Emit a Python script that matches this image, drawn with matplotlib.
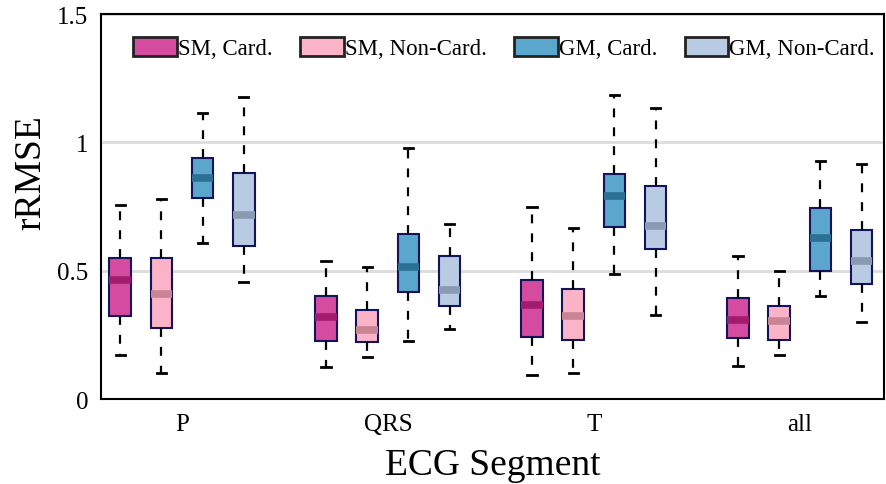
import numpy as np
import matplotlib
matplotlib.use("Agg")
import matplotlib.pyplot as plt
from matplotlib.patches import Patch

plt.rcParams['font.family'] = ['Liberation Serif', 'DejaVu Serif']

# Datos (rRMSE por segmento)
segmentos = ['P', 'QRS', 'T', 'all']
series = ['SM, Card.', 'SM, Non-Card.', 'GM, Card.', 'GM, Non-Card.']

sm_card_hi = [0.756, 0.539, 0.749, 0.558]
sm_card_q3 = [0.550, 0.402, 0.465, 0.395]
sm_card_med = [0.463, 0.318, 0.366, 0.309]
sm_card_q1 = [0.325, 0.227, 0.243, 0.240]
sm_card_lo = [0.171, 0.126, 0.095, 0.130]

sm_non_hi = [0.779, 0.515, 0.666, 0.500]
sm_non_q3 = [0.550, 0.349, 0.428, 0.364]
sm_non_med = [0.408, 0.269, 0.322, 0.303]
sm_non_q1 = [0.278, 0.223, 0.229, 0.230]
sm_non_lo = [0.100, 0.164, 0.100, 0.171]

gm_card_hi = [1.113, 0.977, 1.186, 0.928]
gm_card_q3 = [0.938, 0.645, 0.878, 0.743]
gm_card_med = [0.861, 0.515, 0.792, 0.627]
gm_card_q1 = [0.782, 0.418, 0.670, 0.499]
gm_card_lo = [0.608, 0.225, 0.486, 0.403]

gm_non_hi = [1.175, 0.684, 1.135, 0.916]
gm_non_q3 = [0.880, 0.557, 0.832, 0.660]
gm_non_med = [0.718, 0.426, 0.674, 0.538]
gm_non_q1 = [0.597, 0.364, 0.583, 0.448]
gm_non_lo = [0.457, 0.273, 0.328, 0.301]

datos = [
    (sm_card_lo, sm_card_q1, sm_card_med, sm_card_q3, sm_card_hi),
    (sm_non_lo, sm_non_q1, sm_non_med, sm_non_q3, sm_non_hi),
    (gm_card_lo, gm_card_q1, gm_card_med, gm_card_q3, gm_card_hi),
    (gm_non_lo, gm_non_q1, gm_non_med, gm_non_q3, gm_non_hi),
]

colores = ['#d54b9f', '#fbb3c7', '#5aa6cd', '#b8cbe3']
colores_med = ['#a31b6c', '#c98593', '#2c7096', '#8a9ab0']
offsets = [-0.3, -0.1, 0.1, 0.3]

fig = plt.figure(figsize=(8.86, 4.85), dpi=100)
ax = fig.add_axes([0.114, 0.175, 0.884, 0.794])

x = np.arange(1, len(segmentos) + 1)

for k, (lo, q1, med, q3, hi) in enumerate(datos):
    stats = []
    for i in range(len(segmentos)):
        stats.append(dict(whislo=lo[i], q1=q1[i], med=med[i], q3=q3[i],
                          whishi=hi[i], fliers=[]))
    ax.bxp(stats, positions=x + offsets[k], widths=0.105, capwidths=0.045,
           patch_artist=True, showfliers=False,
           boxprops=dict(facecolor=colores[k], edgecolor='#14145c', lw=1.5),
           whiskerprops=dict(color='black', lw=1.6, linestyle=(0, (4, 4.5))),
           capprops=dict(color='black', lw=2),
           medianprops=dict(color=colores_med[k], lw=5.5, solid_capstyle='butt'))

ax.set_xlim(0.607, 4.41)
ax.set_ylim(0, 1.5)
ax.set_yticks([0, 0.5, 1, 1.5])
ax.set_yticklabels(['0', '0.5', '1', '1.5'])
ax.set_xticks(x)
ax.set_xticklabels(segmentos)
ax.tick_params(length=0, labelsize=18)
ax.tick_params(axis='y', pad=9)
ax.tick_params(axis='x', pad=10)
ax.grid(axis='y', color='#dcdcdc', lw=2)
ax.set_axisbelow(True)
for s in ax.spines.values():
    s.set_linewidth(1.5)

ax.set_xlabel('ECG Segment', fontsize=27, labelpad=9)
ax.set_ylabel('rRMSE', fontsize=27)
ax.yaxis.set_label_coords(-0.067, 0.592)

handles = [Patch(facecolor=c, edgecolor='#222222', lw=2) for c in colores]
ax.legend(handles, series, loc='upper right', ncol=4, frameon=False,
          fontsize=16.5, handlelength=1.9, handleheight=0.9, handletextpad=0.05,
          columnspacing=1.2, bbox_to_anchor=(1.0, 0.965), borderaxespad=0.0)

plt.savefig('out.png', dpi=100)
